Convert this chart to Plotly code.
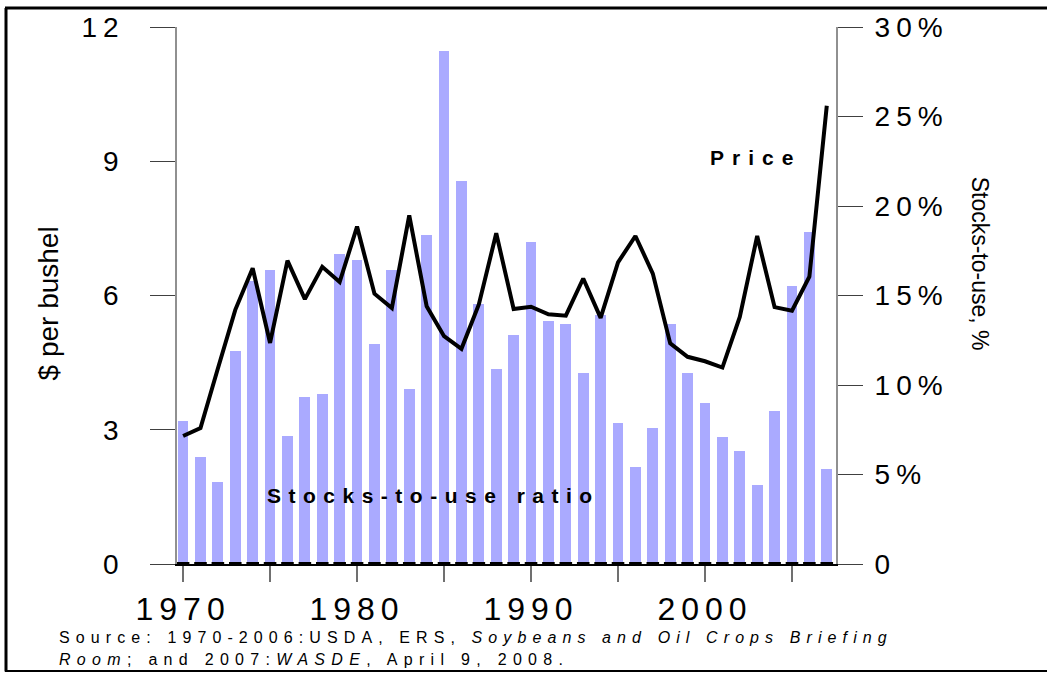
import plotly.graph_objects as go

years = list(range(1970, 2008))
price = [2.86, 3.04, 4.37, 5.68, 6.61, 4.94, 6.78, 5.92, 6.64, 6.30,
         7.54, 6.04, 5.72, 7.79, 5.76, 5.09, 4.81, 5.80, 7.39,
         5.70, 5.75, 5.58, 5.55, 6.38, 5.50, 6.74, 7.33, 6.49, 4.93,
         4.63, 4.53, 4.39, 5.52, 7.33, 5.74, 5.66, 6.42, 10.24]
stocks_to_use = [8.0, 6.0, 4.6, 11.9, 15.8, 16.4, 7.15, 9.35, 9.5, 17.3,
                 17.0, 12.3, 16.4, 9.8, 18.4, 28.65, 21.4, 14.55, 10.9,
                 12.8, 18.0, 13.6, 13.4, 10.65, 13.9, 7.9, 5.4, 7.6, 13.4,
                 10.65, 9.0, 7.1, 6.3, 4.4, 8.55, 15.55, 18.55, 5.3]
zero_marks = [0] * len(years)

x_tickvals = [1970, 1975, 1980, 1985, 1990, 1995, 2000, 2005]
x_ticktext = ["1970", "", "1980", "", "1990", "", "2000", ""]
price_ticks = [0, 3, 6, 9, 12]
price_ticktext = ["0", "3", "6", "9", "12"]
pct_ticks = [0, 5, 10, 15, 20, 25, 30]
pct_ticktext = ["0", "5%", "10%", "15%", "20%", "25%", "30%"]

W, H = 1047, 673
L, R, T, B = 177, 836, 24, 564


def px(x):
    return (x - L) / (R - L)


def py(y):
    return (B - y) / (B - T)


fig = go.Figure()
fig.add_trace(go.Bar(x=years, y=stocks_to_use, yaxis="y",
                     marker=dict(color="rgb(170,170,255)", line=dict(width=0)),
                     width=0.62, name="Stocks-to-use ratio"))
fig.add_trace(go.Scatter(x=years, y=price, yaxis="y2", mode="lines",
                         line=dict(color="black", width=4), name="Price"))
fig.add_trace(go.Scatter(x=years, y=zero_marks, yaxis="y2", mode="markers",
                         marker=dict(symbol="line-ew", size=9,
                                     line=dict(color="black", width=4)),
                         cliponaxis=False, name=""))

sans = "Liberation Sans, Arial, sans-serif"
tickfont = dict(family=sans, size=28, color="black")

fig.update_layout(
    width=W, height=H,
    margin=dict(l=L, r=W - R, t=T, b=H - B, pad=0),
    paper_bgcolor="white", plot_bgcolor="white",
    showlegend=False,
    bargap=0,
    xaxis=dict(range=[1969.65, 2007.53], tickmode="array",
               tickvals=x_tickvals, ticktext=x_ticktext,
               ticks="outside", ticklen=16, tickwidth=1.5, tickcolor="#707070",
               showline=True, linecolor="black", linewidth=1.5,
               showgrid=False, zeroline=False,
               tickfont=dict(family=sans, size=32, color="black"),
               ticklabelstandoff=0),
    yaxis=dict(range=[0, 30], side="right", tickmode="array",
               tickvals=pct_ticks, ticktext=pct_ticktext,
               ticks="outside", ticklen=25, tickwidth=1.2, tickcolor="#404040",
               showline=True, linecolor="#909090", linewidth=2,
               showgrid=False, zeroline=False, tickfont=tickfont,
               ticklabelstandoff=6),
    yaxis2=dict(range=[0, 12], side="left", overlaying="y", tickmode="array",
                tickvals=price_ticks, ticktext=price_ticktext,
                ticks="outside", ticklen=25, tickwidth=1.2, tickcolor="#404040",
                showline=True, linecolor="#909090", linewidth=1.5,
                showgrid=False, zeroline=False, tickfont=tickfont,
                ticklabelstandoff=20),
    annotations=[
        dict(text="<b>Price</b>", x=px(708), y=py(155), xref="paper", yref="paper",
             xanchor="left", yanchor="middle", align="left", showarrow=False,
             font=dict(family=sans, size=21, color="black")),
        dict(text="<b>Stocks-to-use ratio</b>", x=px(265), y=py(495), xref="paper", yref="paper",
             xanchor="left", yanchor="middle", align="left", showarrow=False,
             font=dict(family=sans, size=21, color="black")),
        dict(text="Source: 1970-2006:USDA, ERS, <i>Soybeans and Oil Crops Briefing</i>",
             x=px(57), y=py(638), xref="paper", yref="paper",
             xanchor="left", yanchor="middle", align="left", showarrow=False,
             font=dict(family=sans, size=16, color="black")),
        dict(text="<i>Room</i>; and 2007:<i>WASDE</i>, April 9, 2008.",
             x=px(57), y=py(660), xref="paper", yref="paper",
             xanchor="left", yanchor="middle", align="left", showarrow=False,
             font=dict(family=sans, size=16, color="black")),
        dict(text="$ per bushel", x=px(48), y=py(302), xref="paper", yref="paper",
             xanchor="center", yanchor="middle", textangle=-90, showarrow=False,
             font=dict(family=sans, size=28, color="black")),
        dict(text="Stocks-to-use, %", x=px(980), y=py(262), xref="paper", yref="paper",
             xanchor="center", yanchor="middle", textangle=90, showarrow=False,
             font=dict(family=sans, size=23, color="black")),
    ],
    shapes=[
        dict(type="line", xref="paper", yref="paper", x0=px(6), x1=px(6), y0=py(5), y1=py(672),
             line=dict(color="black", width=3)),
        dict(type="line", xref="paper", yref="paper", x0=px(5), x1=px(1047), y0=py(5), y1=py(5),
             line=dict(color="black", width=3)),
        dict(type="line", xref="paper", yref="paper", x0=px(5), x1=px(1047), y0=py(671.5), y1=py(671.5),
             line=dict(color="black", width=2)),
    ],
)

post = """
document.body.style.margin = '0';
document.body.style.overflow = 'hidden';
var gd = document.getElementById('{plot_id}');
function sp(sel, v){ gd.querySelectorAll(sel).forEach(function(e){ e.style.letterSpacing = v; }); }
sp('.xtick text', '6px');
sp('.ytick text', '6px');
sp('.y2tick text', '6px');
sp('.annotation[data-index="0"] text', '8px');
sp('.annotation[data-index="1"] text', '7.5px');
sp('.annotation[data-index="2"] text', '6.1px');
sp('.annotation[data-index="3"] text', '6.3px');
"""

fig.write_html("out.html", post_script=post, config={"displayModeBar": False})
